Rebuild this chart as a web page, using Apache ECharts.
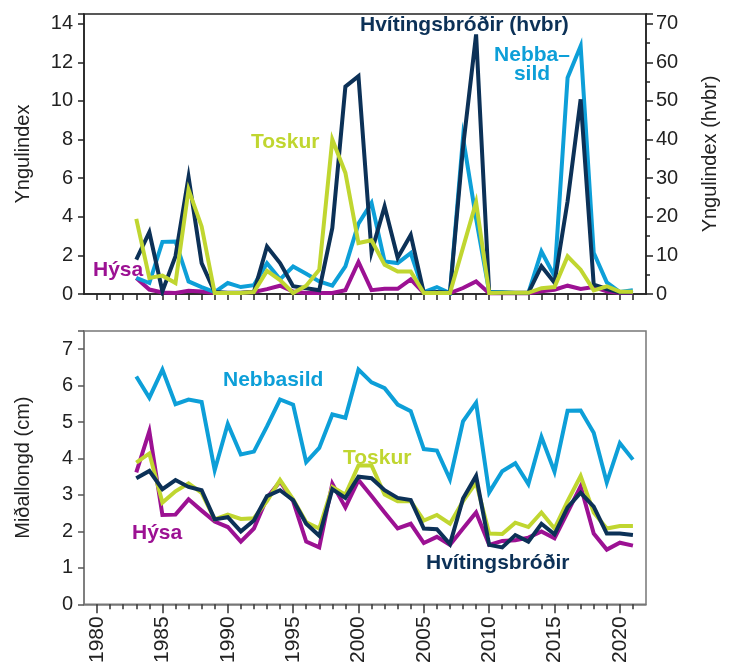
<!DOCTYPE html>
<html>
<head>
<meta charset="utf-8">
<script src="https://cdn.jsdelivr.net/npm/echarts@6/dist/echarts.min.js"></script>
<style>
  html, body { margin: 0; padding: 0; background: #fff; }
  #main { width: 730px; height: 666px; }
</style>
</head>
<body>
<div id="main"></div>
<script>
// ár
var years = [];
for (var y = 1983; y <= 2021; y++) years.push(y);
// ás sem nær frá 1979 til 2022
var axisYears = [];
for (var a = 1979; a <= 2022; a++) axisYears.push(String(a));

// efri mynd: yngulindex
var hvbrIndex = [8.9, 16, 0.7, 9.8, 30.3, 8, 0.5, 0.3, 0.3, 0.5,
                 12.3, 8, 2, 1.5, 1, 17.1, 53.7, 56.4, 10.9, 22.7,
                 9.4, 15.3, 0.3, 0.5, 0.3, 38, 67.2, 0.4, 0.3, 0.3,
                 0.3, 7.2, 2.9, 24, 50.4, 2.4, 1.3, 0.4, 0.4];
var nebbaIndex = [0.83, 0.57, 2.7, 2.72, 0.65, 0.36, 0.1, 0.57, 0.36, 0.46,
                  1.59, 0.76, 1.42, 1.05, 0.65, 0.43, 1.43, 3.64, 4.72, 1.69,
                  1.6, 2.12, 0.1, 0.36, 0.05, 8.09, 3.9, 0.12, 0.1, 0.05,
                  0.05, 2.2, 0.92, 11.2, 12.84, 2.13, 0.6, 0.1, 0.2];
var toskurIndex = [3.89, 0.83, 0.95, 0.57, 5.41, 3.5, 0.05, 0.05, 0.05, 0.1,
                   1.2, 0.72, 0.05, 0.43, 1.26, 8.0, 6.27, 2.64, 2.78, 1.52,
                   1.17, 1.17, 0.05, 0.05, 0.05, 2.4, 4.75, 0.05, 0.06, 0.06,
                   0.06, 0.3, 0.36, 1.95, 1.26, 0.19, 0.4, 0.12, 0.12];
var hysaIndex = [0.83, 0.23, 0.08, 0.05, 0.17, 0.13, 0.05, 0.05, 0.05, 0.1,
                 0.25, 0.43, 0.13, 0.05, 0.05, 0.05, 0.2, 1.66, 0.2, 0.27,
                 0.27, 0.76, 0.05, 0.05, 0.05, 0.31, 0.65, 0.04, 0.04, 0.04,
                 0.04, 0.14, 0.22, 0.43, 0.26, 0.36, 0.14, 0.05, 0.05];

// neðri mynd: miðallengd (cm)
var nebbaLen = [6.25, 5.67, 6.44, 5.49, 5.62, 5.55, 3.68, 4.95, 4.11, 4.19,
                4.88, 5.62, 5.48, 3.9, 4.29, 5.21, 5.12, 6.44, 6.09, 5.93,
                5.48, 5.3, 4.26, 4.22, 3.43, 5.02, 5.53, 3.07, 3.65, 3.87,
                3.3, 4.59, 3.64, 5.31, 5.32, 4.71, 3.34, 4.42, 3.97];
var toskurLen = [3.89, 4.14, 2.79, 3.1, 3.32, 3.06, 2.33, 2.46, 2.34, 2.36,
                 2.83, 3.41, 2.88, 2.25, 2.08, 3.22, 3.01, 3.81, 3.81, 3.01,
                 2.83, 2.83, 2.3, 2.45, 2.21, 2.83, 3.34, 1.94, 1.93, 2.24,
                 2.12, 2.52, 2.08, 2.83, 3.52, 2.52, 2.08, 2.15, 2.15];
var hvbrLen = [3.46, 3.66, 3.16, 3.41, 3.22, 3.13, 2.33, 2.39, 2.0, 2.3,
               2.97, 3.13, 2.86, 2.21, 1.88, 3.16, 2.92, 3.5, 3.46, 3.13,
               2.92, 2.86, 2.08, 2.06, 1.65, 2.9, 3.52, 1.63, 1.56, 1.9,
               1.72, 2.21, 1.92, 2.66, 3.06, 2.68, 1.94, 1.94, 1.9];
var hysaLen = [3.62, 4.75, 2.45, 2.46, 2.88, 2.57, 2.27, 2.12, 1.72, 2.08,
               2.92, 3.37, 2.83, 1.72, 1.56, 3.31, 2.66, 3.41, 2.97, 2.52,
               2.08, 2.21, 1.68, 1.85, 1.63, 2.08, 2.52, 1.63, 1.74, 1.76,
               1.83, 2.0, 1.81, 2.52, 3.24, 1.94, 1.5, 1.69, 1.61];

var C_NAVY = '#0c3157';
var C_BLUE = '#0d9fd8';
var C_GREEN = '#c0d630';
var C_PURPLE = '#9c1193';
var FONT = '"Liberation Sans", Arial, sans-serif';

function pairs(vals) {
    return years.map(function (y, i) { return [String(y), vals[i]]; });
}
function line(name, vals, color, xi, yi) {
    return {
        name: name,
        type: 'line',
        xAxisIndex: xi,
        yAxisIndex: yi,
        data: pairs(vals),
        symbol: 'none',
        silent: true,
        lineStyle: { color: color, width: 4, join: 'miter' }
    };
}
function inYears(i) { return i > 0 && i < axisYears.length - 1; }
function label(text, x, y, color, align) {
    return {
        type: 'text', x: x, y: y, silent: true,
        style: { text: text, fill: color, font: 'bold 21px ' + FONT,
                 align: align || 'left', verticalAlign: 'middle' }
    };
}

var axisText = { fontSize: 20, color: '#222', fontFamily: FONT };

var option = {
    backgroundColor: '#fff',
    animation: false,
    grid: [
        { left: 84, top: 14, right: 84, height: 280, show: true, borderColor: '#222', borderWidth: 1.5, backgroundColor: 'transparent' },
        { left: 84, top: 331, right: 84, height: 280, show: true, borderColor: '#777', borderWidth: 1.5, backgroundColor: 'transparent' }
    ],
    xAxis: [
        {
            gridIndex: 0, type: 'category', data: axisYears, boundaryGap: false, position: 'bottom',
            axisLine: { lineStyle: { color: '#222', width: 1.5 } },
            axisTick: { length: 6, interval: function (i) { return inYears(i); }, lineStyle: { color: '#222', width: 1.5 } },
            axisLabel: { show: false },
            splitLine: { show: false }
        },
        {
            gridIndex: 1, type: 'category', data: axisYears, boundaryGap: false, position: 'bottom',
            axisLine: { lineStyle: { color: '#777', width: 1.5 } },
            axisTick: { length: 5, interval: function (i) { return inYears(i); }, lineStyle: { color: '#333', width: 1.5 } },
            axisLabel: { show: false },
            splitLine: { show: false }
        },
        {
            gridIndex: 1, type: 'category', data: axisYears, boundaryGap: false, position: 'bottom',
            axisLine: { show: false },
            axisTick: { length: 9, interval: function (i, v) { return inYears(i) && +v % 5 === 0; }, lineStyle: { color: '#333', width: 1.5 } },
            axisLabel: Object.assign({ rotate: 90, margin: 12, interval: function (i, v) { return +v % 5 === 0; } }, axisText, { fontSize: 21 }),
            splitLine: { show: false }
        }
    ],
    yAxis: [
        {
            gridIndex: 0, type: 'value', position: 'left', min: 0, max: 14.5, interval: 2,
            name: 'Yngulindex', nameLocation: 'middle', nameGap: 51, nameTextStyle: axisText,
            axisLine: { show: true, lineStyle: { color: '#222', width: 1.5 } },
            axisTick: { show: true, length: 6, lineStyle: { color: '#222', width: 1.5 } },
            axisLabel: Object.assign({ margin: 11, formatter: function (v) { return v % 2 === 0 ? v : ''; } }, axisText),
            splitLine: { show: false }
        },
        {
            gridIndex: 0, type: 'value', position: 'right', min: 0, max: 72.5, interval: 10,
            name: 'Yngulindex (hvbr)', nameLocation: 'middle', nameGap: 54, nameRotate: 90, nameTextStyle: axisText,
            axisLine: { show: true, lineStyle: { color: '#222', width: 1.5 } },
            axisTick: { show: true, length: 7, lineStyle: { color: '#222', width: 1.5 } },
            minorTick: { show: true, splitNumber: 2, length: 4, lineStyle: { color: '#222', width: 1.5 } },
            axisLabel: Object.assign({ margin: 10, formatter: function (v) { return v % 10 === 0 ? v : ''; } }, axisText),
            splitLine: { show: false }
        },
        {
            gridIndex: 1, type: 'value', position: 'left', min: 0, max: 7.5, interval: 1,
            name: 'Miðallongd (cm)', nameLocation: 'middle', nameGap: 51, nameTextStyle: axisText,
            axisLine: { show: true, lineStyle: { color: '#777', width: 1.5 } },
            axisTick: { show: true, length: 6, lineStyle: { color: '#555', width: 1.5 } },
            axisLabel: Object.assign({ margin: 11, formatter: function (v) { return v % 1 === 0 ? v : ''; } }, axisText),
            splitLine: { show: false }
        }
    ],
    series: [
        line('Hýsa', hysaIndex, C_PURPLE, 0, 0),
        line('Nebbasild', nebbaIndex, C_BLUE, 0, 0),
        line('Hvítingsbróðir', hvbrIndex, C_NAVY, 0, 1),
        line('Toskur', toskurIndex, C_GREEN, 0, 0),
        line('Nebbasild', nebbaLen, C_BLUE, 1, 2),
        line('Hýsa', hysaLen, C_PURPLE, 1, 2),
        line('Toskur', toskurLen, C_GREEN, 1, 2),
        line('Hvítingsbróðir', hvbrLen, C_NAVY, 1, 2)
    ],
    graphic: [
        label('Hvítingsbróðir (hvbr)', 360, 25, C_NAVY),
        label('Nebba–', 532, 55, C_BLUE, 'center'),
        label('sild', 532, 74, C_BLUE, 'center'),
        label('Toskur', 251, 142, C_GREEN),
        label('Hýsa', 93, 270, C_PURPLE),
        label('Nebbasild', 223, 380, C_BLUE),
        label('Toskur', 343, 458, C_GREEN),
        label('Hýsa', 132, 533, C_PURPLE),
        label('Hvítingsbróðir', 426, 563, C_NAVY)
    ]
};

var chart = echarts.init(document.getElementById('main'));
chart.setOption(option);
</script>
</body>
</html>
